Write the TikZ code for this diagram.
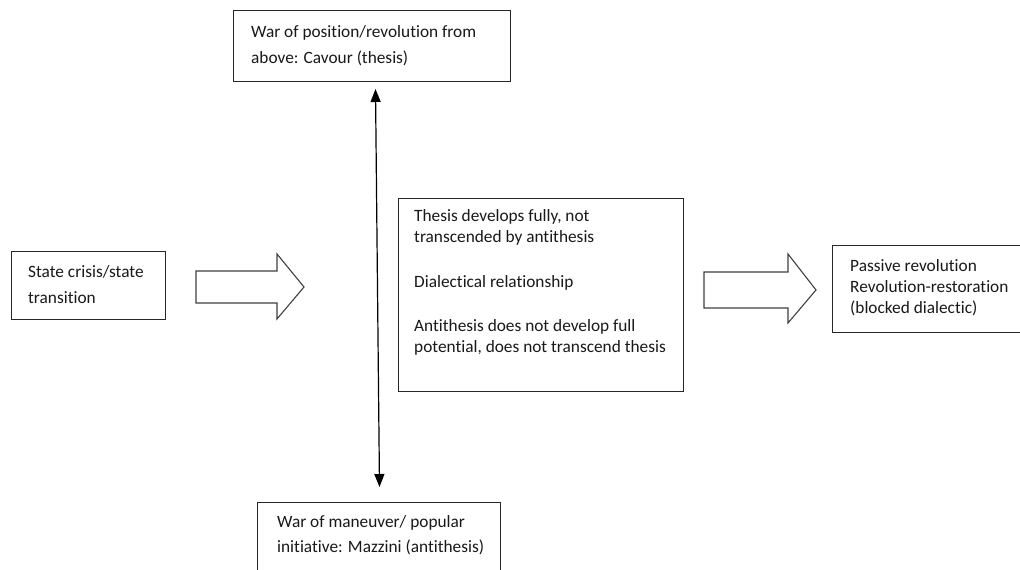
\documentclass[tikz,border=0pt]{standalone}
\usepackage{fontspec}
\setmainfont{Carlito}[Ligatures=NoCommon]
\usetikzlibrary{arrows.meta}
\tikzset{
  box/.style={draw=black!85, line width=1.3pt, fill=white, inner sep=0pt, anchor=north west},
  txt/.style={anchor=base west, inner sep=0pt, align=left, text=black!90, font=\fontsize{17.3}{26}\selectfont},
  txts/.style={txt, font=\fontsize{17.3}{21}\selectfont},
  blockarrow/.style={draw=black!75, line width=1.1pt, fill=white, line join=miter},
  dbl/.style={line width=1.2pt, {Triangle[length=13pt,width=10pt]}-{Triangle[length=13pt,width=10pt]}}
}
\begin{document}
\begin{tikzpicture}[x=1pt,y=-1pt]
\useasboundingbox (0,0) rectangle (1020,570);
\clip (0,0) rectangle (1020,570);
\fill[white] (0,0) rectangle (1020,570);
% boxes
\node[box, minimum width=277pt, minimum height=71pt] (top) at (233,10) {};
\node[box, minimum width=154pt, minimum height=68pt] (left) at (11,251) {};
\node[box, minimum width=285pt, minimum height=193pt] (center) at (398,198) {};
\node[box, minimum width=200pt, minimum height=87pt] (right) at (832,245) {};
\node[box, minimum width=243pt, minimum height=80pt] (bottom) at (257,502) {};
% texts (anchor = baseline of last line)
\node[txt] (toptext) at (251,63) {War of position/revolution from\\above: Cavour (thesis)};
\node[txt] (lefttext) at (28,303) {State crisis/state\\transition};
\node[txts] (c1) at (414,242) {Thesis develops fully, not\\transcended by antithesis};
\node[txts] (c2) at (414,287) {Dialectical relationship};
\node[txts] (c3) at (414,352) {Antithesis does not develop full\\potential, does not transcend thesis};
\node[txts] (righttext) at (850,313) {Passive revolution\\Revolution-restoration\\(blocked dialectic)};
\node[txt, font=\fontsize{17.3}{25}\selectfont] (bottomtext) at (277,552) {War of maneuver/ popular\\initiative: Mazzini (antithesis)};
% block arrows
\draw[blockarrow] (196,271) -- (277,271) -- (277,254) -- (304,287) -- (277,319) -- (277,303) -- (196,303) -- cycle;
\draw[blockarrow] (704,272) -- (788,272) -- (788,254) -- (816,290) -- (788,323) -- (788,308) -- (704,308) -- cycle;
% double arrow
\coordinate (up) at (375.5,89);
\coordinate (down) at (379.5,487);
\draw[dbl] (up) -- (down);
\end{tikzpicture}
\end{document}
